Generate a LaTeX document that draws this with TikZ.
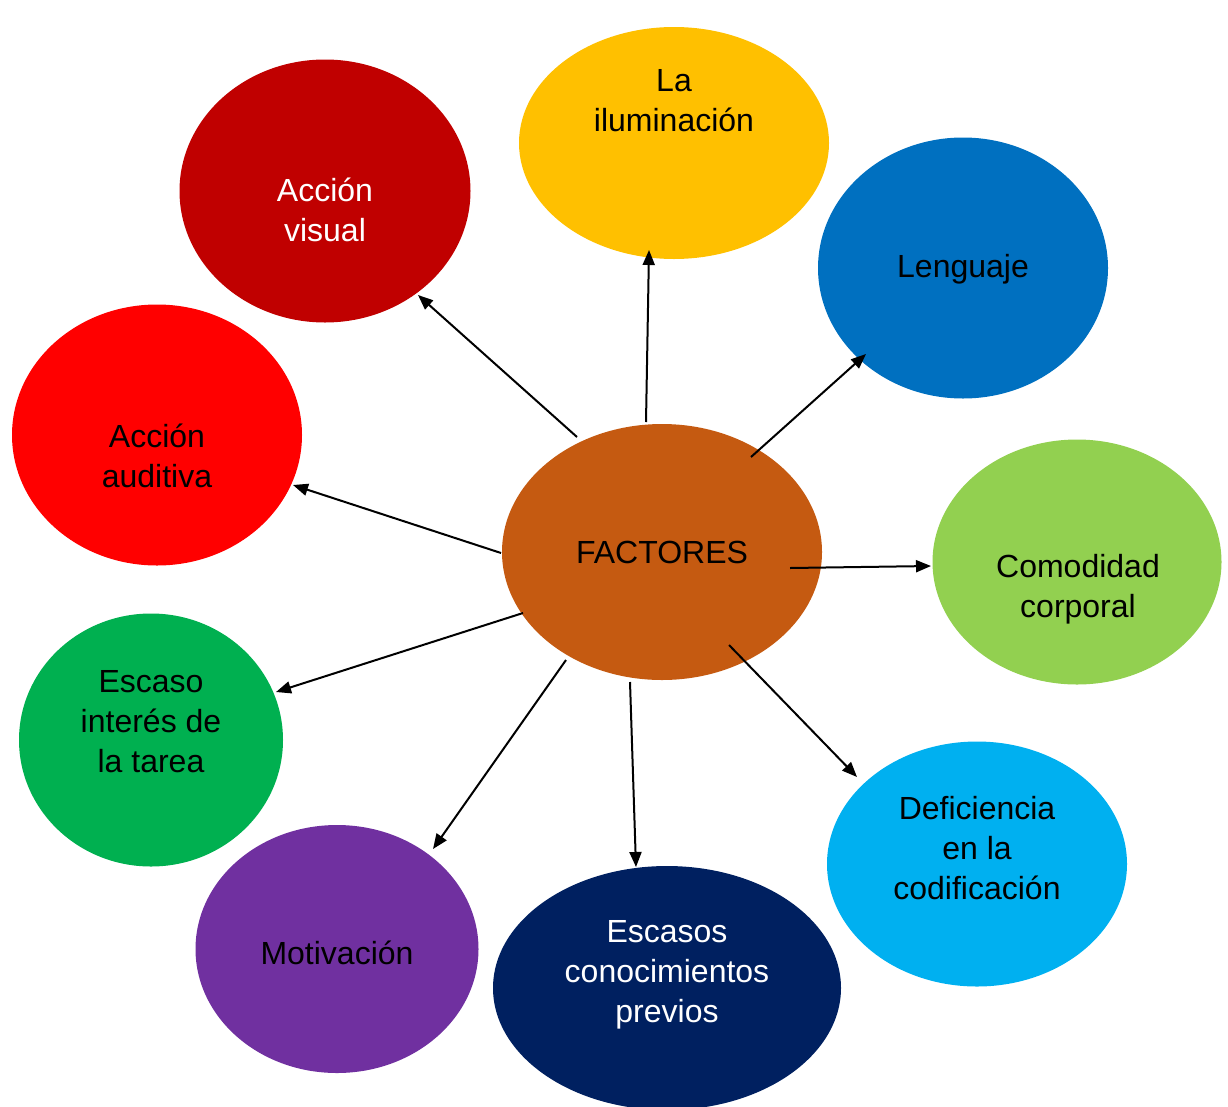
\documentclass[tikz,border=0pt]{standalone}
\usepackage{fontspec}
\setmainfont{Liberation Sans}
\usetikzlibrary{shapes.geometric,arrows.meta}
\definecolor{cIlum}{HTML}{FFC000}
\definecolor{cVis}{HTML}{C00000}
\definecolor{cLen}{HTML}{0070C0}
\definecolor{cAud}{HTML}{FF0000}
\definecolor{cFac}{HTML}{C55A11}
\definecolor{cCom}{HTML}{92D050}
\definecolor{cInt}{HTML}{00B050}
\definecolor{cDef}{HTML}{00B0F0}
\definecolor{cMot}{HTML}{7030A0}
\definecolor{cCon}{HTML}{002060}
\begin{document}
\begin{tikzpicture}[x=1pt,y=-1pt,
  blob/.style={ellipse,inner sep=0pt,draw=none},
  lbl/.style={align=center,font=\fontsize{32}{40}\selectfont,inner sep=0pt},
  arr/.style={line width=2pt,-{Triangle[length=15pt,width=12pt]}}]
\useasboundingbox (0,0) rectangle (1228,1106);
% ellipses
\node[blob,fill=cIlum,minimum width=310pt,minimum height=232pt] (ilum) at (674,143) {};
\node[blob,fill=cVis,minimum width=291pt,minimum height=263pt] (vis) at (325,191) {};
\node[blob,fill=cLen,minimum width=290pt,minimum height=261pt] (len) at (963,268) {};
\node[blob,fill=cAud,minimum width=290pt,minimum height=261pt] (aud) at (157,435) {};
\node[blob,fill=cFac,minimum width=320pt,minimum height=256pt] (fac) at (662,552) {};
\node[blob,fill=cCom,minimum width=289pt,minimum height=245pt] (com) at (1077,562) {};
\node[blob,fill=cInt,minimum width=264pt,minimum height=253pt] (int) at (151,740) {};
\node[blob,fill=cDef,minimum width=300pt,minimum height=245pt] (def) at (977,864) {};
\node[blob,fill=cMot,minimum width=283pt,minimum height=248pt] (mot) at (337,949) {};
\node[blob,fill=cCon,minimum width=348pt,minimum height=244pt] (con) at (667,988) {};
% labels
\node[lbl] (tIlum) at (674,101) {La\\iluminación};
\node[lbl,white] (tVis) at (325,210) {Acción\\visual};
\node[lbl] (tLen) at (963,269) {Lenguaje};
\node[lbl] (tAud) at (157,456) {Acción\\auditiva};
\node[lbl] (tFac) at (662,552) {FACTORES};
\node[lbl] (tCom) at (1078,589) {Comodidad\\corporal};
\node[lbl] (tInt) at (151,722) {Escaso\\interés de\\la tarea};
\node[lbl] (tDef) at (977,848) {Deficiencia\\en la\\codificación};
\node[lbl] (tMot) at (337,953) {Motivación};
\node[lbl,white] (tCon) at (667,975) {Escasos\\conocimientos\\previos};
% arrow endpoints
\coordinate (s1) at (577,437); \coordinate (e1) at (418,295);
\coordinate (s2) at (646,422); \coordinate (e2) at (649,250);
\coordinate (s3) at (751,457); \coordinate (e3) at (866,354);
\coordinate (s4) at (790,568); \coordinate (e4) at (931,566);
\coordinate (s5) at (729,645); \coordinate (e5) at (857,777);
\coordinate (s6) at (630,682); \coordinate (e6) at (636,867);
\coordinate (s7) at (566,660); \coordinate (e7) at (433,849);
\coordinate (s8) at (523,613); \coordinate (e8) at (276,692);
\coordinate (s9) at (501,553); \coordinate (e9) at (293,485);
\foreach \i in {1,...,9} { \draw[arr] (s\i) -- (e\i); }
\end{tikzpicture}
\end{document}
